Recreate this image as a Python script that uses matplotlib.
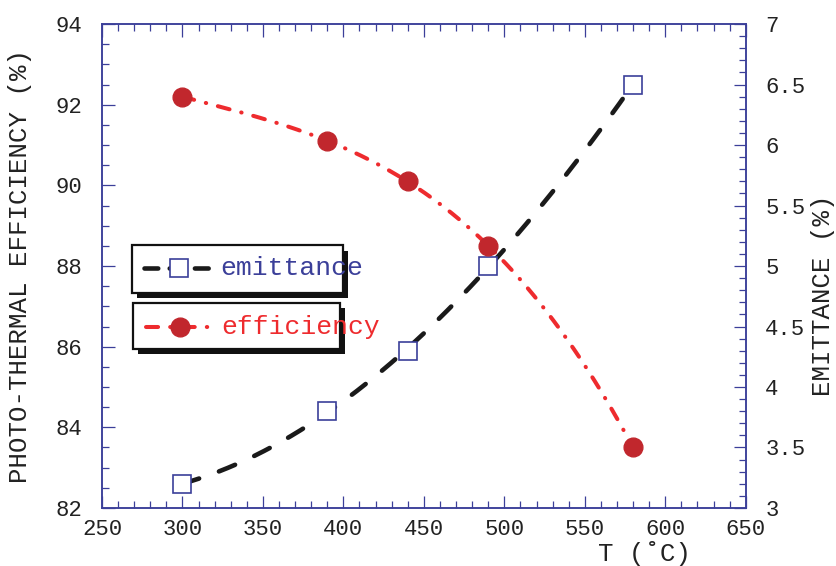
import numpy as np
import matplotlib.pyplot as plt
from matplotlib.patches import Rectangle
from matplotlib.lines import Line2D
from matplotlib.ticker import MultipleLocator, FuncFormatter

plt.rcParams['font.family'] = ['Liberation Mono', 'DejaVu Sans Mono']

# data
temp = [300, 390, 440, 490, 580]
emittance = [3.2, 3.8, 4.3, 5.0, 6.5]
efficiency = [92.2, 91.1, 90.1, 88.5, 83.5]

blu = '#3b3f99'
rosso_linea = '#ee2b2e'
rosso_pt = '#c1272d'

fig = plt.figure(figsize=(8.36, 5.66), dpi=100)
ax = fig.add_axes([0.122, 0.1025, 0.770, 0.855])
ax2 = ax.twinx()

# curve lisce (fit) attraverso i punti
tt = np.linspace(min(temp), max(temp), 200)
c_em = np.polyfit(temp, emittance, 3)
c_ef = np.polyfit(temp, efficiency, 3)

ax2.plot(tt, np.polyval(c_em, tt), color='#1a1a1a', lw=3.3,
         dashes=(3.8, 4.6), dash_capstyle='round', zorder=2)
ax2.plot(temp, emittance, 's', ms=13, mfc='white', mec=blu, mew=1.2, zorder=3)

ax.plot(tt, np.polyval(c_ef, tt), color=rosso_linea, lw=2.9,
        dashes=(3.0, 3.0, 0.1, 3.0), dash_capstyle='round', zorder=2)
ax.plot(temp, efficiency, 'o', ms=13.5, color=rosso_pt, zorder=3)
ax.set_zorder(ax2.get_zorder() + 1)
ax.patch.set_visible(False)

ax.set_xlim(250, 650)
ax.set_ylim(82, 94)
ax2.set_ylim(3, 7)

ax.xaxis.set_major_locator(MultipleLocator(50))
ax.xaxis.set_minor_locator(MultipleLocator(10))
ax.yaxis.set_major_locator(MultipleLocator(2))
ax.yaxis.set_minor_locator(MultipleLocator(0.5))
ax2.yaxis.set_major_locator(MultipleLocator(0.5))
ax2.yaxis.set_minor_locator(MultipleLocator(0.1))
ax2.yaxis.set_major_formatter(FuncFormatter(lambda v, p: '{:g}'.format(v)))

for a in (ax, ax2):
    for s in a.spines.values():
        s.set_color(blu)
        s.set_linewidth(1.1)
ax.tick_params(which='both', direction='in', color=blu, labelcolor='#222222',
               labelsize=16, top=True, right=False, width=0.9)
ax.tick_params(which='major', length=9, pad=8)
ax.tick_params(which='minor', length=5)
ax.tick_params(axis='y', pad=14)
ax2.tick_params(which='both', direction='in', color=blu, labelcolor='#222222',
                labelsize=16, width=0.9)
ax2.tick_params(which='major', length=9, pad=14)
ax2.tick_params(which='minor', length=5)

ax.set_ylabel('PHOTO-THERMAL EFFICIENCY (%)', fontsize=18.5, color='#222222')
ax.yaxis.set_label_coords(-0.108, 0.5)
ax2.set_ylabel('EMITTANCE (%)', fontsize=18.5, color='#222222')
ax2.yaxis.set_label_coords(1.102, 0.44)
ax.set_xlabel('T (˚C)', fontsize=18.5, color='#222222')
ax.xaxis.set_label_coords(0.843, -0.068)

# legenda a riquadri con ombra
def riquadro(x0, y0, w, h):
    ax.add_patch(Rectangle((x0 + 0.008, y0 - 0.011), w, h, transform=ax.transAxes,
                           facecolor='#111111', edgecolor='none', zorder=5))
    ax.add_patch(Rectangle((x0, y0), w, h, transform=ax.transAxes,
                           facecolor='white', edgecolor='#111111', lw=1.6, zorder=6))

riquadro(0.047, 0.444, 0.327, 0.099)
riquadro(0.048, 0.329, 0.322, 0.095)

ax.add_line(Line2D([0.066, 0.172], [0.496, 0.496], transform=ax.transAxes,
                   color='#1a1a1a', lw=3.3, dashes=(3.0, 2.5), dash_capstyle='round',
                   zorder=7))
ax.add_line(Line2D([0.119], [0.496], transform=ax.transAxes, marker='s', ms=13,
                   mfc='white', mec=blu, mew=1.2, ls='none', zorder=8))
ax.text(0.183, 0.496, 'emittance', transform=ax.transAxes, fontsize=19,
        color=blu, va='center', ha='left', zorder=9)

ax.add_line(Line2D([0.069, 0.176], [0.374, 0.374], transform=ax.transAxes,
                   color=rosso_linea, lw=2.9, dashes=(3.0, 3.0, 0.1, 3.0),
                   dash_capstyle='round', zorder=7))
ax.add_line(Line2D([0.121], [0.374], transform=ax.transAxes, marker='o', ms=13.5,
                   color=rosso_pt, ls='none', zorder=8))
ax.text(0.185, 0.374, 'efficiency', transform=ax.transAxes, fontsize=19,
        color=rosso_linea, va='center', ha='left', zorder=9)

plt.savefig('out.png', dpi=100)
